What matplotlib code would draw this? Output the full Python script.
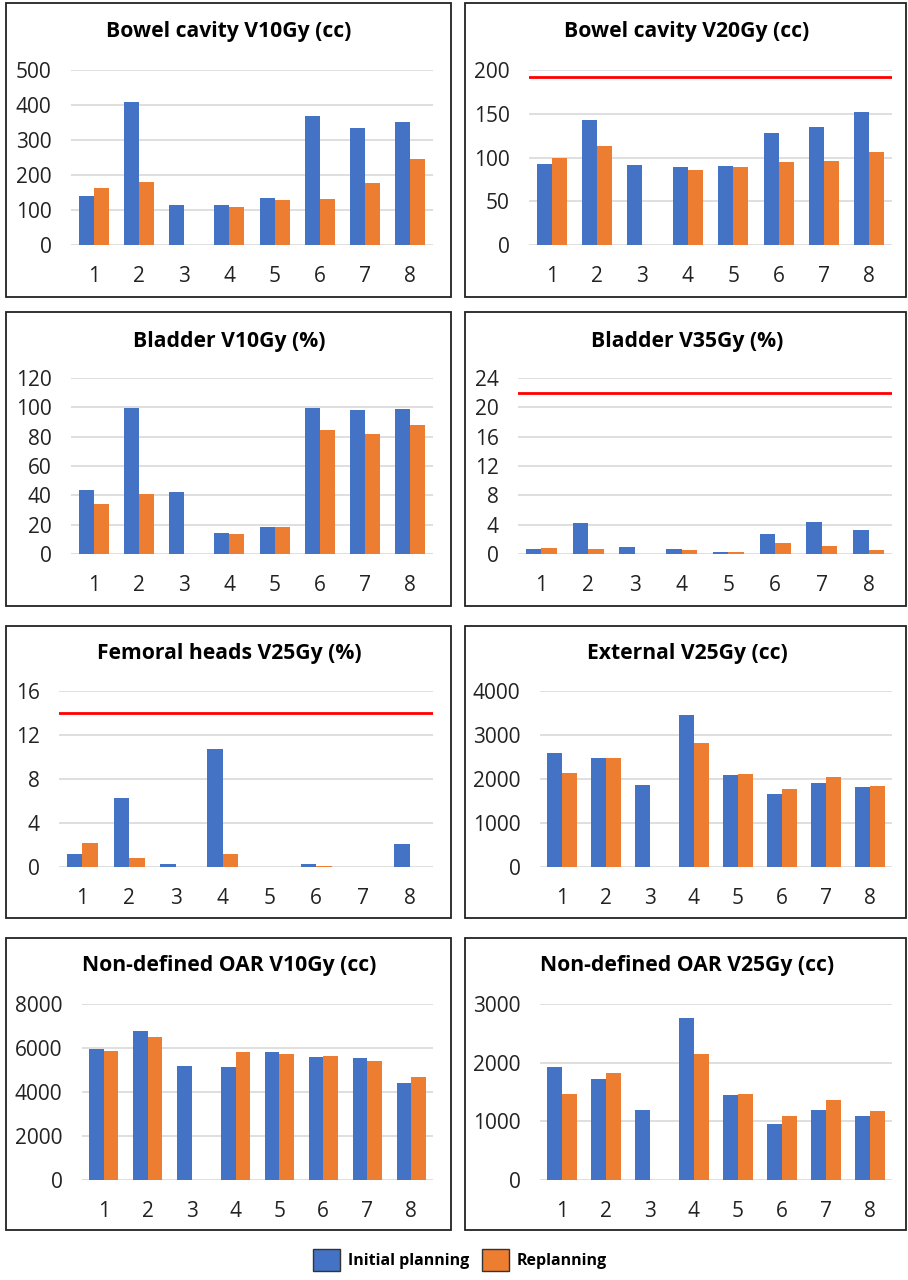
import matplotlib.pyplot as plt
from matplotlib.patches import Rectangle, Patch
import numpy as np

plt.rcParams['font.family'] = ['Open Sans', 'DejaVu Sans']

patients = ['1', '2', '3', '4', '5', '6', '7', '8']

titles = ['Bowel cavity V10Gy (cc)', 'Bowel cavity V20Gy (cc)',
          'Bladder V10Gy (%)', 'Bladder V35Gy (%)',
          'Femoral heads V25Gy (%)', 'External V25Gy (cc)',
          'Non-defined OAR V10Gy (cc)', 'Non-defined OAR V25Gy (cc)']

bowel_v10_init = [141, 410, 114, 114, 134, 370, 334, 350]
bowel_v10_re = [164, 179, 0, 110, 129, 131, 177, 247]
bowel_v20_init = [93, 143, 91, 89, 90, 128, 135, 152]
bowel_v20_re = [99, 113, 0, 86, 89, 95, 96, 106]
bladder_v10_init = [43.6, 99.5, 42.5, 14.3, 18.6, 99.5, 98.4, 98.9]
bladder_v10_re = [34, 41, 0, 13.9, 18.6, 84.3, 81.8, 88]
bladder_v35_init = [0.64, 4.2, 0.95, 0.73, 0.32, 2.7, 4.3, 3.3]
bladder_v35_re = [0.82, 0.73, 0, 0.55, 0.32, 1.55, 1.14, 0.55]
femoral_v25_init = [1.18, 6.3, 0.27, 10.7, 0, 0.27, 0, 2.09]
femoral_v25_re = [2.18, 0.82, 0, 1.18, 0, 0.09, 0, 0]
external_v25_init = [2586, 2480, 1853, 3456, 2102, 1663, 1920, 1815]
external_v25_re = [2140, 2480, 0, 2813, 2117, 1769, 2042, 1837]
oar_v10_init = [5939, 6788, 5182, 5152, 5803, 5591, 5561, 4394]
oar_v10_re = [5864, 6515, 0, 5803, 5727, 5652, 5424, 4697]
oar_v25_init = [1920, 1727, 1188, 2767, 1455, 955, 1199, 1097]
oar_v25_re = [1472, 1818, 0, 2153, 1466, 1085, 1369, 1176]

initial = [bowel_v10_init, bowel_v20_init, bladder_v10_init, bladder_v35_init,
           femoral_v25_init, external_v25_init, oar_v10_init, oar_v25_init]
replan = [bowel_v10_re, bowel_v20_re, bladder_v10_re, bladder_v35_re,
          femoral_v25_re, external_v25_re, oar_v10_re, oar_v25_re]
yticks = [[0, 100, 200, 300, 400, 500], [0, 50, 100, 150, 200],
          [0, 20, 40, 60, 80, 100, 120], [0, 4, 8, 12, 16, 20, 24],
          [0, 4, 8, 12, 16], [0, 1000, 2000, 3000, 4000],
          [0, 2000, 4000, 6000, 8000], [0, 1000, 2000, 3000]]
limits = [None, 192, None, 22, 14, None, None, None]

blue = '#4472C4'
orange = '#ED7D31'

W, H = 908, 1280
fig = plt.figure(figsize=(W / 100, H / 100), dpi=100)

# panel boxes (px): x0, x1 per column, top/bottom per row
box_x = [(6, 451), (465, 906)]
box_y = [(3, 297), (312, 606), (626, 918), (938, 1230)]
title_y = [32, 341, 653, 966]
title_x = [229, 687]
plot_y = [(70, 245), (378, 554), (691, 867), (1004, 1180)]
plot_x = [[(71, 433), (529, 892)], [(71, 433), (518, 892)],
          [(59, 433), (540, 892)], [(82, 433), (540, 892)]]

x = np.arange(len(patients))
w = 0.33

for i in range(8):
    r, c = divmod(i, 2)
    bx0, bx1 = box_x[c]
    by0, by1 = box_y[r]
    fig.patches.append(Rectangle((bx0 / W, 1 - by1 / H), (bx1 - bx0) / W, (by1 - by0) / H,
                                 transform=fig.transFigure, fill=False,
                                 edgecolor='#222222', linewidth=1.3))
    fig.text(title_x[c] / W, 1 - title_y[r] / H, titles[i], ha='center', va='center',
             fontsize=15.2, fontweight='bold')

    px0, px1 = plot_x[r][c]
    py0, py1 = plot_y[r]
    ax = fig.add_axes([px0 / W, 1 - py1 / H, (px1 - px0) / W, (py1 - py0) / H])
    ax.bar(x - w / 2, initial[i], w, color=blue, zorder=3)
    ax.bar(x + w / 2, replan[i], w, color=orange, zorder=3)
    if limits[i] is not None:
        ax.axhline(limits[i], color='#FF0000', linewidth=2, zorder=4)
    ax.set_xlim(-0.5, 7.5)
    ax.set_ylim(0, yticks[i][-1])
    ax.set_yticks(yticks[i])
    ax.set_xticks(x)
    ax.set_xticklabels(patients)
    ax.yaxis.grid(True, color='#D9D9D9', linewidth=1.2, zorder=0)
    ax.set_axisbelow(True)
    for s in ax.spines.values():
        s.set_visible(False)
    ax.tick_params(axis='both', length=0, labelsize=15, colors='#222222')
    ax.tick_params(axis='x', pad=15)
    ax.tick_params(axis='y', pad=14)

handles = [Patch(facecolor=blue, edgecolor='#333333', label='Initial planning'),
           Patch(facecolor=orange, edgecolor='#333333', label='Replanning')]
fig.legend(handles=handles, loc='center', bbox_to_anchor=(460 / W, 1 - 1260 / H), ncol=2,
           frameon=False, prop={'weight': 'bold', 'size': 11.5},
           handlelength=1.7, handleheight=1.7, handletextpad=0.5, columnspacing=0.8)

fig.savefig('out.png', dpi=100)
